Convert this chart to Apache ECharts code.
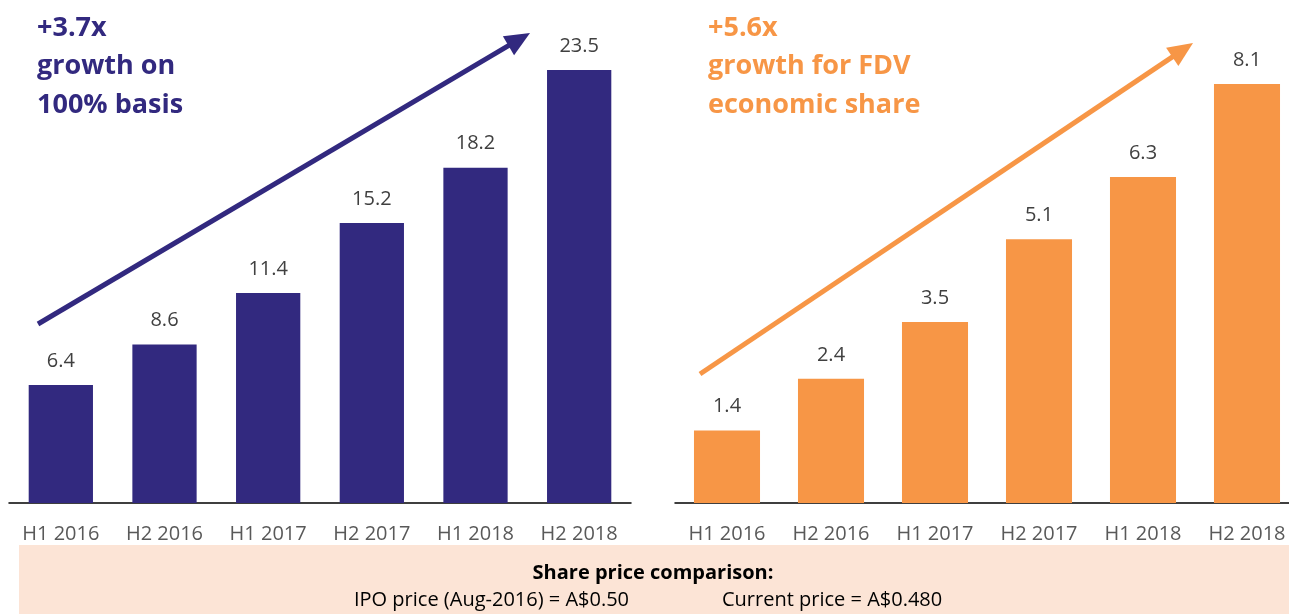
<!DOCTYPE html>
<html>
<head>
<meta charset="utf-8">
<script src="https://cdn.jsdelivr.net/npm/echarts@6/dist/echarts.min.js"></script>
<style>
html,body{margin:0;padding:0;background:#fff;overflow:hidden;width:1289px;height:614px;}
#chart{width:1300px;height:614px;}
</style>
</head>
<body>
<div id="chart"></div>
<script>
const categories = ['H1 2016','H2 2016','H1 2017','H2 2017','H1 2018','H2 2018'];
const totalValues = [6.4, 8.6, 11.4, 15.2, 18.2, 23.5];
const fdvValues = [1.4, 2.4, 3.5, 5.1, 6.3, 8.1];
const leftNote = '+3.7x\ngrowth on\n100% basis';
const rightNote = '+5.6x\ngrowth for FDV\neconomic share';
const boxTitle = 'Share price comparison:';
const ipoText = 'IPO price (Aug-2016) = A$0.50';
const currentText = 'Current price = A$0.480';

const BLUE = '#32297f';
const ORANGE = '#f79646';
const FONT = '"Open Sans", "Noto Sans", sans-serif';

function arrow(x1, y1, x2, y2, color) {
  const dx = x2 - x1, dy = y2 - y1;
  const len = Math.sqrt(dx*dx + dy*dy);
  const ux = dx/len, uy = dy/len;
  const hl = 25, hw = 11;
  const bx = x2 - ux*hl, by = y2 - uy*hl;
  const px = -uy, py = ux;
  return [
    {type:'line', shape:{x1:x1, y1:y1, x2:bx + ux*2, y2:by + uy*2}, style:{stroke:color, lineWidth:5}, z:10},
    {type:'polygon', shape:{points:[[x2,y2],[bx+px*hw,by+py*hw],[bx-px*hw,by-py*hw]]}, style:{fill:color}, z:10}
  ];
}

const chart = echarts.init(document.getElementById('chart'), null, {renderer:'canvas'});

function xAxisCfg(idx) {
  return {
    type:'category', gridIndex:idx, data:categories,
    axisLine:{show:true, lineStyle:{color:'#000', width:1.5}},
    axisTick:{show:false},
    axisLabel:{color:'#595959', fontSize:20, fontFamily:FONT, margin:21}
  };
}
function yAxisCfg(idx, max) {
  return {type:'value', gridIndex:idx, min:0, max:max, show:false, splitLine:{show:false}};
}

const option = {
  animation:false,
  backgroundColor:'#ffffff',
  grid:[
    {left:9, width:622, top:70, bottom:111},
    {left:675, width:624, top:84, bottom:111}
  ],
  xAxis:[xAxisCfg(0), xAxisCfg(1)],
  yAxis:[yAxisCfg(0, 23.5), yAxisCfg(1, 8.1)],
  series:[
    {type:'bar', xAxisIndex:0, yAxisIndex:0, data:totalValues, barCategoryGap:'38%',
     itemStyle:{color:BLUE},
     label:{show:true, position:'top', distance:14, color:'#404040', fontSize:20, fontFamily:FONT}},
    {type:'bar', xAxisIndex:1, yAxisIndex:1, data:fdvValues, barCategoryGap:'36.5%',
     itemStyle:{color:ORANGE},
     label:{show:true, position:'top', distance:14, color:'#404040', fontSize:20, fontFamily:FONT}}
  ],
  graphic:[
    ...arrow(38, 324, 530, 33, BLUE),
    ...arrow(700, 374, 1193, 43, ORANGE),
    {type:'text', left:37, top:9, style:{text:leftNote, fill:BLUE, font:'bold 27px ' + FONT, lineHeight:38.5}},
    {type:'text', left:708, top:9, style:{text:rightNote, fill:ORANGE, font:'bold 27px ' + FONT, lineHeight:38.5}},
    {type:'rect', shape:{x:19, y:545, width:1290, height:80}, style:{fill:'#fce4d6'}, z:-1},
    {type:'text', x:653, y:573, style:{text:boxTitle, fill:'#000', font:'bold 20px ' + FONT, textAlign:'center', textVerticalAlign:'middle'}},
    {type:'text', x:354, y:600, style:{text:ipoText, fill:'#000', font:'20px ' + FONT, textAlign:'left', textVerticalAlign:'middle'}},
    {type:'text', x:722, y:600, style:{text:currentText, fill:'#000', font:'20px ' + FONT, textAlign:'left', textVerticalAlign:'middle'}}
  ]
};
chart.setOption(option);
</script>
</body>
</html>
